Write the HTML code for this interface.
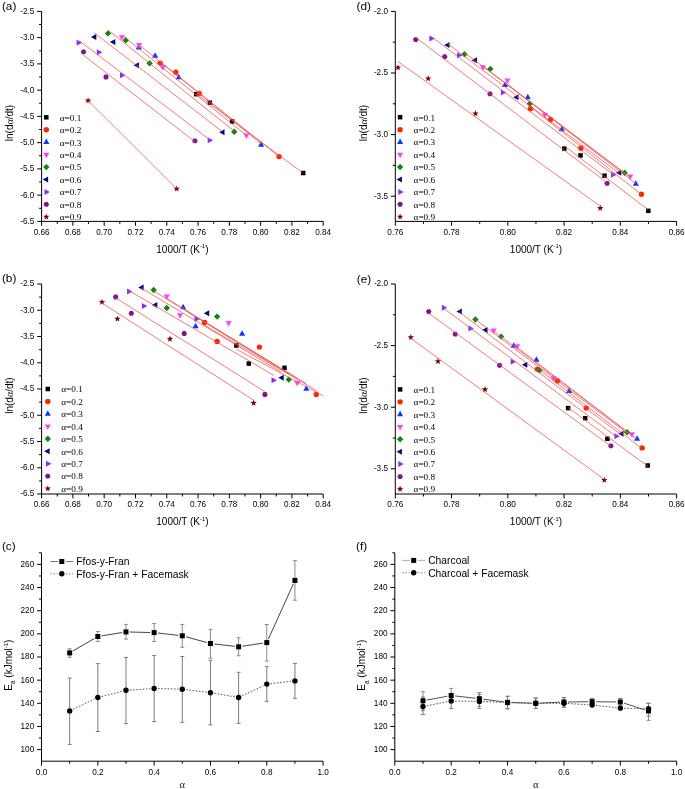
<!DOCTYPE html>
<html><head><meta charset="utf-8"><style>
html,body{margin:0;padding:0;background:#fff;width:685px;height:789px;overflow:hidden}
svg{display:block;will-change:transform}
</style></head><body>
<svg width="685" height="789" viewBox="0 0 685 789">
<rect width="685" height="789" fill="#fff"/>
<path d="M41.60,11.40V221.40H323.20" fill="none" stroke="#000" stroke-width="1"/>
<path d="M41.60,221.40v4.4" stroke="#000" stroke-width="1"/>
<path d="M72.89,221.40v4.4" stroke="#000" stroke-width="1"/>
<path d="M104.18,221.40v4.4" stroke="#000" stroke-width="1"/>
<path d="M135.47,221.40v4.4" stroke="#000" stroke-width="1"/>
<path d="M166.76,221.40v4.4" stroke="#000" stroke-width="1"/>
<path d="M198.04,221.40v4.4" stroke="#000" stroke-width="1"/>
<path d="M229.33,221.40v4.4" stroke="#000" stroke-width="1"/>
<path d="M260.62,221.40v4.4" stroke="#000" stroke-width="1"/>
<path d="M291.91,221.40v4.4" stroke="#000" stroke-width="1"/>
<path d="M323.20,221.40v4.4" stroke="#000" stroke-width="1"/>
<path d="M57.24,221.40v2.5" stroke="#000" stroke-width="1"/>
<path d="M88.53,221.40v2.5" stroke="#000" stroke-width="1"/>
<path d="M119.82,221.40v2.5" stroke="#000" stroke-width="1"/>
<path d="M151.11,221.40v2.5" stroke="#000" stroke-width="1"/>
<path d="M182.40,221.40v2.5" stroke="#000" stroke-width="1"/>
<path d="M213.69,221.40v2.5" stroke="#000" stroke-width="1"/>
<path d="M244.98,221.40v2.5" stroke="#000" stroke-width="1"/>
<path d="M276.27,221.40v2.5" stroke="#000" stroke-width="1"/>
<path d="M307.56,221.40v2.5" stroke="#000" stroke-width="1"/>
<path d="M41.60,11.40h-4.4" stroke="#000" stroke-width="1"/>
<path d="M41.60,37.65h-4.4" stroke="#000" stroke-width="1"/>
<path d="M41.60,63.90h-4.4" stroke="#000" stroke-width="1"/>
<path d="M41.60,90.15h-4.4" stroke="#000" stroke-width="1"/>
<path d="M41.60,116.40h-4.4" stroke="#000" stroke-width="1"/>
<path d="M41.60,142.65h-4.4" stroke="#000" stroke-width="1"/>
<path d="M41.60,168.90h-4.4" stroke="#000" stroke-width="1"/>
<path d="M41.60,195.15h-4.4" stroke="#000" stroke-width="1"/>
<path d="M41.60,221.40h-4.4" stroke="#000" stroke-width="1"/>
<path d="M41.60,24.52h-2.5" stroke="#000" stroke-width="1"/>
<path d="M41.60,50.77h-2.5" stroke="#000" stroke-width="1"/>
<path d="M41.60,77.03h-2.5" stroke="#000" stroke-width="1"/>
<path d="M41.60,103.28h-2.5" stroke="#000" stroke-width="1"/>
<path d="M41.60,129.53h-2.5" stroke="#000" stroke-width="1"/>
<path d="M41.60,155.78h-2.5" stroke="#000" stroke-width="1"/>
<path d="M41.60,182.03h-2.5" stroke="#000" stroke-width="1"/>
<path d="M41.60,208.28h-2.5" stroke="#000" stroke-width="1"/>
<text transform="translate(41.60,234.80) scale(1,1.07)" font-family='"Liberation Sans", sans-serif' font-size="8.2" text-anchor="middle" >0.66</text>
<text transform="translate(72.89,234.80) scale(1,1.07)" font-family='"Liberation Sans", sans-serif' font-size="8.2" text-anchor="middle" >0.68</text>
<text transform="translate(104.18,234.80) scale(1,1.07)" font-family='"Liberation Sans", sans-serif' font-size="8.2" text-anchor="middle" >0.70</text>
<text transform="translate(135.47,234.80) scale(1,1.07)" font-family='"Liberation Sans", sans-serif' font-size="8.2" text-anchor="middle" >0.72</text>
<text transform="translate(166.76,234.80) scale(1,1.07)" font-family='"Liberation Sans", sans-serif' font-size="8.2" text-anchor="middle" >0.74</text>
<text transform="translate(198.04,234.80) scale(1,1.07)" font-family='"Liberation Sans", sans-serif' font-size="8.2" text-anchor="middle" >0.76</text>
<text transform="translate(229.33,234.80) scale(1,1.07)" font-family='"Liberation Sans", sans-serif' font-size="8.2" text-anchor="middle" >0.78</text>
<text transform="translate(260.62,234.80) scale(1,1.07)" font-family='"Liberation Sans", sans-serif' font-size="8.2" text-anchor="middle" >0.80</text>
<text transform="translate(291.91,234.80) scale(1,1.07)" font-family='"Liberation Sans", sans-serif' font-size="8.2" text-anchor="middle" >0.82</text>
<text transform="translate(323.20,234.80) scale(1,1.07)" font-family='"Liberation Sans", sans-serif' font-size="8.2" text-anchor="middle" >0.84</text>
<text transform="translate(34.30,13.80) scale(1,1.07)" font-family='"Liberation Sans", sans-serif' font-size="8.2" text-anchor="end" >-2.5</text>
<text transform="translate(34.30,40.05) scale(1,1.07)" font-family='"Liberation Sans", sans-serif' font-size="8.2" text-anchor="end" >-3.0</text>
<text transform="translate(34.30,66.30) scale(1,1.07)" font-family='"Liberation Sans", sans-serif' font-size="8.2" text-anchor="end" >-3.5</text>
<text transform="translate(34.30,92.55) scale(1,1.07)" font-family='"Liberation Sans", sans-serif' font-size="8.2" text-anchor="end" >-4.0</text>
<text transform="translate(34.30,118.80) scale(1,1.07)" font-family='"Liberation Sans", sans-serif' font-size="8.2" text-anchor="end" >-4.5</text>
<text transform="translate(34.30,145.05) scale(1,1.07)" font-family='"Liberation Sans", sans-serif' font-size="8.2" text-anchor="end" >-5.0</text>
<text transform="translate(34.30,171.30) scale(1,1.07)" font-family='"Liberation Sans", sans-serif' font-size="8.2" text-anchor="end" >-5.5</text>
<text transform="translate(34.30,197.55) scale(1,1.07)" font-family='"Liberation Sans", sans-serif' font-size="8.2" text-anchor="end" >-6.0</text>
<text transform="translate(34.30,223.80) scale(1,1.07)" font-family='"Liberation Sans", sans-serif' font-size="8.2" text-anchor="end" >-6.5</text>
<rect x="193.95" y="91.95" width="4.50" height="4.50" fill="#000000"/>
<rect x="207.65" y="100.45" width="4.50" height="4.50" fill="#000000"/>
<rect x="229.85" y="119.15" width="4.50" height="4.50" fill="#000000"/>
<rect x="300.95" y="170.75" width="4.50" height="4.50" fill="#000000"/>
<circle cx="160.20" cy="63.10" r="2.70" fill="#ff2400"/>
<circle cx="175.80" cy="72.20" r="2.70" fill="#ff2400"/>
<circle cx="199.20" cy="93.40" r="2.70" fill="#ff2400"/>
<circle cx="279.10" cy="156.60" r="2.70" fill="#ff2400"/>
<path d="M138.80,44.07L141.85,49.57L135.75,49.57Z" fill="#1033ff"/>
<path d="M155.10,52.17L158.15,57.67L152.05,57.67Z" fill="#1033ff"/>
<path d="M178.80,73.87L181.85,79.37L175.75,79.37Z" fill="#1033ff"/>
<path d="M261.10,141.37L264.15,146.87L258.05,146.87Z" fill="#1033ff"/>
<path d="M121.80,40.73L124.85,35.23L118.75,35.23Z" fill="#ff40ff"/>
<path d="M139.00,48.43L142.05,42.93L135.95,42.93Z" fill="#ff40ff"/>
<path d="M162.80,70.83L165.85,65.33L159.75,65.33Z" fill="#ff40ff"/>
<path d="M246.40,138.93L249.45,133.43L243.35,133.43Z" fill="#ff40ff"/>
<path d="M108.00,30.20L111.20,33.40L108.00,36.60L104.80,33.40Z" fill="#0a870a"/>
<path d="M125.80,37.00L129.00,40.20L125.80,43.40L122.60,40.20Z" fill="#0a870a"/>
<path d="M149.60,60.00L152.80,63.20L149.60,66.40L146.40,63.20Z" fill="#0a870a"/>
<path d="M234.20,128.60L237.40,131.80L234.20,135.00L231.00,131.80Z" fill="#0a870a"/>
<path d="M90.92,37.00L96.32,34.00L96.32,40.00Z" fill="#000a80"/>
<path d="M109.92,42.00L115.32,39.00L115.32,45.00Z" fill="#000a80"/>
<path d="M133.52,65.20L138.92,62.20L138.92,68.20Z" fill="#000a80"/>
<path d="M219.12,132.20L224.52,129.20L224.52,135.20Z" fill="#000a80"/>
<path d="M81.98,42.70L76.58,39.70L76.58,45.70Z" fill="#8a2cff"/>
<path d="M102.28,52.20L96.88,49.20L96.88,55.20Z" fill="#8a2cff"/>
<path d="M125.38,75.30L119.98,72.30L119.98,78.30Z" fill="#8a2cff"/>
<path d="M213.08,140.20L207.68,137.20L207.68,143.20Z" fill="#8a2cff"/>
<polygon points="86.30,51.80 84.90,54.22 82.10,54.22 80.70,51.80 82.10,49.38 84.90,49.38" fill="#82148a"/>
<polygon points="108.80,77.00 107.40,79.42 104.60,79.42 103.20,77.00 104.60,74.58 107.40,74.58" fill="#82148a"/>
<polygon points="197.70,140.90 196.30,143.32 193.50,143.32 192.10,140.90 193.50,138.48 196.30,138.48" fill="#82148a"/>
<polygon points="88.10,97.30 88.92,99.57 91.33,99.65 89.43,101.13 90.10,103.45 88.10,102.10 86.10,103.45 86.77,101.13 84.87,99.65 87.28,99.57" fill="#800000"/>
<polygon points="176.70,185.40 177.52,187.67 179.93,187.75 178.03,189.23 178.70,191.55 176.70,190.20 174.70,191.55 175.37,189.23 173.47,187.75 175.88,187.67" fill="#800000"/>
<line x1="196.20" y1="93.77" x2="303.20" y2="173.17" stroke="#ec5050" stroke-width="0.75"/>
<line x1="160.20" y1="61.75" x2="279.10" y2="156.52" stroke="#ec5050" stroke-width="0.75"/>
<line x1="138.80" y1="44.53" x2="261.10" y2="143.87" stroke="#ec5050" stroke-width="0.75"/>
<line x1="121.80" y1="34.90" x2="246.40" y2="135.51" stroke="#ec5050" stroke-width="0.75"/>
<line x1="108.00" y1="29.91" x2="234.20" y2="131.20" stroke="#ec5050" stroke-width="0.75"/>
<line x1="93.80" y1="32.50" x2="222.00" y2="131.38" stroke="#ec5050" stroke-width="0.75"/>
<line x1="79.10" y1="40.62" x2="210.20" y2="140.18" stroke="#ec5050" stroke-width="0.75"/>
<line x1="83.50" y1="55.23" x2="194.90" y2="141.77" stroke="#ec5050" stroke-width="0.75"/>
<line x1="88.10" y1="100.70" x2="176.70" y2="188.80" stroke="#ec5050" stroke-width="0.75"/>
<rect x="44.05" y="115.05" width="4.50" height="4.50" fill="#000000"/>
<text x="59.80" y="120.60" font-family='"Liberation Serif", serif' font-size="9.2" text-anchor="start" >&#945;=0.1</text>
<circle cx="46.30" cy="129.75" r="2.70" fill="#ff2400"/>
<text x="59.80" y="133.05" font-family='"Liberation Serif", serif' font-size="9.2" text-anchor="start" >&#945;=0.2</text>
<path d="M46.30,138.53L49.35,144.03L43.25,144.03Z" fill="#1033ff"/>
<text x="59.80" y="145.50" font-family='"Liberation Serif", serif' font-size="9.2" text-anchor="start" >&#945;=0.3</text>
<path d="M46.30,158.32L49.35,152.82L43.25,152.82Z" fill="#ff40ff"/>
<text x="59.80" y="157.95" font-family='"Liberation Serif", serif' font-size="9.2" text-anchor="start" >&#945;=0.4</text>
<path d="M46.30,163.90L49.50,167.10L46.30,170.30L43.10,167.10Z" fill="#0a870a"/>
<text x="59.80" y="170.40" font-family='"Liberation Serif", serif' font-size="9.2" text-anchor="start" >&#945;=0.5</text>
<path d="M42.70,179.55L48.10,176.55L48.10,182.55Z" fill="#000a80"/>
<text x="59.80" y="182.85" font-family='"Liberation Serif", serif' font-size="9.2" text-anchor="start" >&#945;=0.6</text>
<path d="M49.90,192.00L44.50,189.00L44.50,195.00Z" fill="#8a2cff"/>
<text x="59.80" y="195.30" font-family='"Liberation Serif", serif' font-size="9.2" text-anchor="start" >&#945;=0.7</text>
<polygon points="49.10,204.45 47.70,206.87 44.90,206.87 43.50,204.45 44.90,202.03 47.70,202.03" fill="#82148a"/>
<text x="59.80" y="207.75" font-family='"Liberation Serif", serif' font-size="9.2" text-anchor="start" >&#945;=0.8</text>
<polygon points="46.30,213.50 47.12,215.77 49.53,215.85 47.63,217.33 48.30,219.65 46.30,218.30 44.30,219.65 44.97,217.33 43.07,215.85 45.48,215.77" fill="#800000"/>
<text x="59.80" y="220.20" font-family='"Liberation Serif", serif' font-size="9.2" text-anchor="start" >&#945;=0.9</text>
<text x="182.40" y="252.50" font-family='"Liberation Sans", sans-serif' font-size="10" text-anchor="middle">1000/T (K<tspan font-size="5.8" dy="-4.4">-1</tspan><tspan dy="4.4">)</tspan></text>
<text transform="translate(13.10,123.00) rotate(-90)" font-family='"Liberation Sans", sans-serif' font-size="10" text-anchor="middle">ln(d<tspan font-family='"Liberation Serif", serif' font-style="italic">&#945;</tspan>/dt)</text>
<text x="1.90" y="9.60" font-family='"Liberation Sans", sans-serif' font-size="11.8" text-anchor="start" >(a)</text>
<path d="M41.60,284.00V494.00H323.20" fill="none" stroke="#000" stroke-width="1"/>
<path d="M41.60,494.00v4.4" stroke="#000" stroke-width="1"/>
<path d="M72.89,494.00v4.4" stroke="#000" stroke-width="1"/>
<path d="M104.18,494.00v4.4" stroke="#000" stroke-width="1"/>
<path d="M135.47,494.00v4.4" stroke="#000" stroke-width="1"/>
<path d="M166.76,494.00v4.4" stroke="#000" stroke-width="1"/>
<path d="M198.04,494.00v4.4" stroke="#000" stroke-width="1"/>
<path d="M229.33,494.00v4.4" stroke="#000" stroke-width="1"/>
<path d="M260.62,494.00v4.4" stroke="#000" stroke-width="1"/>
<path d="M291.91,494.00v4.4" stroke="#000" stroke-width="1"/>
<path d="M323.20,494.00v4.4" stroke="#000" stroke-width="1"/>
<path d="M57.24,494.00v2.5" stroke="#000" stroke-width="1"/>
<path d="M88.53,494.00v2.5" stroke="#000" stroke-width="1"/>
<path d="M119.82,494.00v2.5" stroke="#000" stroke-width="1"/>
<path d="M151.11,494.00v2.5" stroke="#000" stroke-width="1"/>
<path d="M182.40,494.00v2.5" stroke="#000" stroke-width="1"/>
<path d="M213.69,494.00v2.5" stroke="#000" stroke-width="1"/>
<path d="M244.98,494.00v2.5" stroke="#000" stroke-width="1"/>
<path d="M276.27,494.00v2.5" stroke="#000" stroke-width="1"/>
<path d="M307.56,494.00v2.5" stroke="#000" stroke-width="1"/>
<path d="M41.60,284.00h-4.4" stroke="#000" stroke-width="1"/>
<path d="M41.60,310.25h-4.4" stroke="#000" stroke-width="1"/>
<path d="M41.60,336.50h-4.4" stroke="#000" stroke-width="1"/>
<path d="M41.60,362.75h-4.4" stroke="#000" stroke-width="1"/>
<path d="M41.60,389.00h-4.4" stroke="#000" stroke-width="1"/>
<path d="M41.60,415.25h-4.4" stroke="#000" stroke-width="1"/>
<path d="M41.60,441.50h-4.4" stroke="#000" stroke-width="1"/>
<path d="M41.60,467.75h-4.4" stroke="#000" stroke-width="1"/>
<path d="M41.60,494.00h-4.4" stroke="#000" stroke-width="1"/>
<path d="M41.60,297.12h-2.5" stroke="#000" stroke-width="1"/>
<path d="M41.60,323.38h-2.5" stroke="#000" stroke-width="1"/>
<path d="M41.60,349.62h-2.5" stroke="#000" stroke-width="1"/>
<path d="M41.60,375.88h-2.5" stroke="#000" stroke-width="1"/>
<path d="M41.60,402.12h-2.5" stroke="#000" stroke-width="1"/>
<path d="M41.60,428.38h-2.5" stroke="#000" stroke-width="1"/>
<path d="M41.60,454.62h-2.5" stroke="#000" stroke-width="1"/>
<path d="M41.60,480.88h-2.5" stroke="#000" stroke-width="1"/>
<text transform="translate(41.60,507.40) scale(1,1.07)" font-family='"Liberation Sans", sans-serif' font-size="8.2" text-anchor="middle" >0.66</text>
<text transform="translate(72.89,507.40) scale(1,1.07)" font-family='"Liberation Sans", sans-serif' font-size="8.2" text-anchor="middle" >0.68</text>
<text transform="translate(104.18,507.40) scale(1,1.07)" font-family='"Liberation Sans", sans-serif' font-size="8.2" text-anchor="middle" >0.70</text>
<text transform="translate(135.47,507.40) scale(1,1.07)" font-family='"Liberation Sans", sans-serif' font-size="8.2" text-anchor="middle" >0.72</text>
<text transform="translate(166.76,507.40) scale(1,1.07)" font-family='"Liberation Sans", sans-serif' font-size="8.2" text-anchor="middle" >0.74</text>
<text transform="translate(198.04,507.40) scale(1,1.07)" font-family='"Liberation Sans", sans-serif' font-size="8.2" text-anchor="middle" >0.76</text>
<text transform="translate(229.33,507.40) scale(1,1.07)" font-family='"Liberation Sans", sans-serif' font-size="8.2" text-anchor="middle" >0.78</text>
<text transform="translate(260.62,507.40) scale(1,1.07)" font-family='"Liberation Sans", sans-serif' font-size="8.2" text-anchor="middle" >0.80</text>
<text transform="translate(291.91,507.40) scale(1,1.07)" font-family='"Liberation Sans", sans-serif' font-size="8.2" text-anchor="middle" >0.82</text>
<text transform="translate(323.20,507.40) scale(1,1.07)" font-family='"Liberation Sans", sans-serif' font-size="8.2" text-anchor="middle" >0.84</text>
<text transform="translate(34.30,286.40) scale(1,1.07)" font-family='"Liberation Sans", sans-serif' font-size="8.2" text-anchor="end" >-2.5</text>
<text transform="translate(34.30,312.65) scale(1,1.07)" font-family='"Liberation Sans", sans-serif' font-size="8.2" text-anchor="end" >-3.0</text>
<text transform="translate(34.30,338.90) scale(1,1.07)" font-family='"Liberation Sans", sans-serif' font-size="8.2" text-anchor="end" >-3.5</text>
<text transform="translate(34.30,365.15) scale(1,1.07)" font-family='"Liberation Sans", sans-serif' font-size="8.2" text-anchor="end" >-4.0</text>
<text transform="translate(34.30,391.40) scale(1,1.07)" font-family='"Liberation Sans", sans-serif' font-size="8.2" text-anchor="end" >-4.5</text>
<text transform="translate(34.30,417.65) scale(1,1.07)" font-family='"Liberation Sans", sans-serif' font-size="8.2" text-anchor="end" >-5.0</text>
<text transform="translate(34.30,443.90) scale(1,1.07)" font-family='"Liberation Sans", sans-serif' font-size="8.2" text-anchor="end" >-5.5</text>
<text transform="translate(34.30,470.15) scale(1,1.07)" font-family='"Liberation Sans", sans-serif' font-size="8.2" text-anchor="end" >-6.0</text>
<text transform="translate(34.30,496.40) scale(1,1.07)" font-family='"Liberation Sans", sans-serif' font-size="8.2" text-anchor="end" >-6.5</text>
<rect x="234.15" y="343.25" width="4.50" height="4.50" fill="#000000"/>
<rect x="246.55" y="361.35" width="4.50" height="4.50" fill="#000000"/>
<rect x="282.25" y="365.55" width="4.50" height="4.50" fill="#000000"/>
<circle cx="204.60" cy="322.50" r="2.70" fill="#ff2400"/>
<circle cx="217.10" cy="341.40" r="2.70" fill="#ff2400"/>
<circle cx="259.40" cy="347.10" r="2.70" fill="#ff2400"/>
<circle cx="316.30" cy="394.50" r="2.70" fill="#ff2400"/>
<path d="M183.10,303.67L186.15,309.17L180.05,309.17Z" fill="#1033ff"/>
<path d="M195.60,322.77L198.65,328.27L192.55,328.27Z" fill="#1033ff"/>
<path d="M242.10,330.17L245.15,335.67L239.05,335.67Z" fill="#1033ff"/>
<path d="M306.30,385.37L309.35,390.87L303.25,390.87Z" fill="#1033ff"/>
<path d="M166.80,299.93L169.85,294.43L163.75,294.43Z" fill="#ff40ff"/>
<path d="M180.00,318.73L183.05,313.23L176.95,313.23Z" fill="#ff40ff"/>
<path d="M228.70,326.53L231.75,321.03L225.65,321.03Z" fill="#ff40ff"/>
<path d="M297.20,386.43L300.25,380.93L294.15,380.93Z" fill="#ff40ff"/>
<path d="M153.70,286.80L156.90,290.00L153.70,293.20L150.50,290.00Z" fill="#0a870a"/>
<path d="M166.80,304.80L170.00,308.00L166.80,311.20L163.60,308.00Z" fill="#0a870a"/>
<path d="M217.10,313.40L220.30,316.60L217.10,319.80L213.90,316.60Z" fill="#0a870a"/>
<path d="M288.80,376.40L292.00,379.60L288.80,382.80L285.60,379.60Z" fill="#0a870a"/>
<path d="M138.22,287.40L143.62,284.40L143.62,290.40Z" fill="#000a80"/>
<path d="M151.92,305.10L157.32,302.10L157.32,308.10Z" fill="#000a80"/>
<path d="M203.82,313.30L209.22,310.30L209.22,316.30Z" fill="#000a80"/>
<path d="M278.32,377.80L283.72,374.80L283.72,380.80Z" fill="#000a80"/>
<path d="M132.48,291.50L127.08,288.50L127.08,294.50Z" fill="#8a2cff"/>
<path d="M147.28,305.90L141.88,302.90L141.88,308.90Z" fill="#8a2cff"/>
<path d="M199.88,318.90L194.48,315.90L194.48,321.90Z" fill="#8a2cff"/>
<path d="M276.88,380.20L271.48,377.20L271.48,383.20Z" fill="#8a2cff"/>
<polygon points="118.50,297.00 117.10,299.42 114.30,299.42 112.90,297.00 114.30,294.58 117.10,294.58" fill="#82148a"/>
<polygon points="134.10,313.30 132.70,315.72 129.90,315.72 128.50,313.30 129.90,310.88 132.70,310.88" fill="#82148a"/>
<polygon points="187.00,333.50 185.60,335.92 182.80,335.92 181.40,333.50 182.80,331.08 185.60,331.08" fill="#82148a"/>
<polygon points="267.70,394.50 266.30,396.92 263.50,396.92 262.10,394.50 263.50,392.08 266.30,392.08" fill="#82148a"/>
<polygon points="102.00,298.70 102.82,300.97 105.23,301.05 103.33,302.53 104.00,304.85 102.00,303.50 100.00,304.85 100.67,302.53 98.77,301.05 101.18,300.97" fill="#800000"/>
<polygon points="117.40,315.40 118.22,317.67 120.63,317.75 118.73,319.23 119.40,321.55 117.40,320.20 115.40,321.55 116.07,319.23 114.17,317.75 116.58,317.67" fill="#800000"/>
<polygon points="170.00,335.60 170.82,337.87 173.23,337.95 171.33,339.43 172.00,341.75 170.00,340.40 168.00,341.75 168.67,339.43 166.77,337.95 169.18,337.87" fill="#800000"/>
<polygon points="253.60,399.60 254.42,401.87 256.83,401.95 254.93,403.43 255.60,405.75 253.60,404.40 251.60,405.75 252.27,403.43 250.37,401.95 252.78,401.87" fill="#800000"/>
<line x1="236.40" y1="349.30" x2="323.30" y2="395.80" stroke="#ec5050" stroke-width="0.75"/>
<line x1="204.60" y1="325.21" x2="316.30" y2="390.51" stroke="#ec5050" stroke-width="0.75"/>
<line x1="183.10" y1="308.86" x2="306.30" y2="383.68" stroke="#ec5050" stroke-width="0.75"/>
<line x1="166.80" y1="298.53" x2="297.20" y2="378.35" stroke="#ec5050" stroke-width="0.75"/>
<line x1="153.70" y1="290.97" x2="288.80" y2="374.17" stroke="#ec5050" stroke-width="0.75"/>
<line x1="141.10" y1="287.96" x2="281.20" y2="372.09" stroke="#ec5050" stroke-width="0.75"/>
<line x1="129.60" y1="290.98" x2="274.00" y2="375.47" stroke="#ec5050" stroke-width="0.75"/>
<line x1="115.70" y1="297.94" x2="264.90" y2="391.65" stroke="#ec5050" stroke-width="0.75"/>
<line x1="102.00" y1="303.12" x2="253.60" y2="400.16" stroke="#ec5050" stroke-width="0.75"/>
<rect x="45.55" y="386.75" width="4.50" height="4.50" fill="#000000"/>
<text x="61.30" y="392.30" font-family='"Liberation Serif", serif' font-size="9.2" text-anchor="start" >&#945;=0.1</text>
<circle cx="47.80" cy="401.45" r="2.70" fill="#ff2400"/>
<text x="61.30" y="404.75" font-family='"Liberation Serif", serif' font-size="9.2" text-anchor="start" >&#945;=0.2</text>
<path d="M47.80,410.23L50.85,415.73L44.75,415.73Z" fill="#1033ff"/>
<text x="61.30" y="417.20" font-family='"Liberation Serif", serif' font-size="9.2" text-anchor="start" >&#945;=0.3</text>
<path d="M47.80,430.02L50.85,424.52L44.75,424.52Z" fill="#ff40ff"/>
<text x="61.30" y="429.65" font-family='"Liberation Serif", serif' font-size="9.2" text-anchor="start" >&#945;=0.4</text>
<path d="M47.80,435.60L51.00,438.80L47.80,442.00L44.60,438.80Z" fill="#0a870a"/>
<text x="61.30" y="442.10" font-family='"Liberation Serif", serif' font-size="9.2" text-anchor="start" >&#945;=0.5</text>
<path d="M44.20,451.25L49.60,448.25L49.60,454.25Z" fill="#000a80"/>
<text x="61.30" y="454.55" font-family='"Liberation Serif", serif' font-size="9.2" text-anchor="start" >&#945;=0.6</text>
<path d="M51.40,463.70L46.00,460.70L46.00,466.70Z" fill="#8a2cff"/>
<text x="61.30" y="467.00" font-family='"Liberation Serif", serif' font-size="9.2" text-anchor="start" >&#945;=0.7</text>
<polygon points="50.60,476.15 49.20,478.57 46.40,478.57 45.00,476.15 46.40,473.73 49.20,473.73" fill="#82148a"/>
<text x="61.30" y="479.45" font-family='"Liberation Serif", serif' font-size="9.2" text-anchor="start" >&#945;=0.8</text>
<polygon points="47.80,485.20 48.62,487.47 51.03,487.55 49.13,489.03 49.80,491.35 47.80,490.00 45.80,491.35 46.47,489.03 44.57,487.55 46.98,487.47" fill="#800000"/>
<text x="61.30" y="491.90" font-family='"Liberation Serif", serif' font-size="9.2" text-anchor="start" >&#945;=0.9</text>
<text x="182.40" y="525.10" font-family='"Liberation Sans", sans-serif' font-size="10" text-anchor="middle">1000/T (K<tspan font-size="5.8" dy="-4.4">-1</tspan><tspan dy="4.4">)</tspan></text>
<text transform="translate(13.10,395.60) rotate(-90)" font-family='"Liberation Sans", sans-serif' font-size="10" text-anchor="middle">ln(d<tspan font-family='"Liberation Serif", serif' font-style="italic">&#945;</tspan>/dt)</text>
<text x="1.90" y="282.20" font-family='"Liberation Sans", sans-serif' font-size="11.8" text-anchor="start" >(b)</text>
<path d="M395.30,11.40V221.40H676.60" fill="none" stroke="#000" stroke-width="1"/>
<path d="M395.30,221.40v4.4" stroke="#000" stroke-width="1"/>
<path d="M451.56,221.40v4.4" stroke="#000" stroke-width="1"/>
<path d="M507.82,221.40v4.4" stroke="#000" stroke-width="1"/>
<path d="M564.08,221.40v4.4" stroke="#000" stroke-width="1"/>
<path d="M620.34,221.40v4.4" stroke="#000" stroke-width="1"/>
<path d="M676.60,221.40v4.4" stroke="#000" stroke-width="1"/>
<path d="M423.43,221.40v2.5" stroke="#000" stroke-width="1"/>
<path d="M479.69,221.40v2.5" stroke="#000" stroke-width="1"/>
<path d="M535.95,221.40v2.5" stroke="#000" stroke-width="1"/>
<path d="M592.21,221.40v2.5" stroke="#000" stroke-width="1"/>
<path d="M648.47,221.40v2.5" stroke="#000" stroke-width="1"/>
<path d="M395.30,11.40h-4.4" stroke="#000" stroke-width="1"/>
<path d="M395.30,73.00h-4.4" stroke="#000" stroke-width="1"/>
<path d="M395.30,134.60h-4.4" stroke="#000" stroke-width="1"/>
<path d="M395.30,196.20h-4.4" stroke="#000" stroke-width="1"/>
<path d="M395.30,42.20h-2.5" stroke="#000" stroke-width="1"/>
<path d="M395.30,103.80h-2.5" stroke="#000" stroke-width="1"/>
<path d="M395.30,165.40h-2.5" stroke="#000" stroke-width="1"/>
<text transform="translate(395.30,234.80) scale(1,1.07)" font-family='"Liberation Sans", sans-serif' font-size="8.2" text-anchor="middle" >0.76</text>
<text transform="translate(451.56,234.80) scale(1,1.07)" font-family='"Liberation Sans", sans-serif' font-size="8.2" text-anchor="middle" >0.78</text>
<text transform="translate(507.82,234.80) scale(1,1.07)" font-family='"Liberation Sans", sans-serif' font-size="8.2" text-anchor="middle" >0.80</text>
<text transform="translate(564.08,234.80) scale(1,1.07)" font-family='"Liberation Sans", sans-serif' font-size="8.2" text-anchor="middle" >0.82</text>
<text transform="translate(620.34,234.80) scale(1,1.07)" font-family='"Liberation Sans", sans-serif' font-size="8.2" text-anchor="middle" >0.84</text>
<text transform="translate(676.60,234.80) scale(1,1.07)" font-family='"Liberation Sans", sans-serif' font-size="8.2" text-anchor="middle" >0.86</text>
<text transform="translate(388.00,13.80) scale(1,1.07)" font-family='"Liberation Sans", sans-serif' font-size="8.2" text-anchor="end" >-2.0</text>
<text transform="translate(388.00,75.40) scale(1,1.07)" font-family='"Liberation Sans", sans-serif' font-size="8.2" text-anchor="end" >-2.5</text>
<text transform="translate(388.00,137.00) scale(1,1.07)" font-family='"Liberation Sans", sans-serif' font-size="8.2" text-anchor="end" >-3.0</text>
<text transform="translate(388.00,198.60) scale(1,1.07)" font-family='"Liberation Sans", sans-serif' font-size="8.2" text-anchor="end" >-3.5</text>
<rect x="562.05" y="146.35" width="4.50" height="4.50" fill="#000000"/>
<rect x="578.25" y="153.15" width="4.50" height="4.50" fill="#000000"/>
<rect x="602.25" y="173.45" width="4.50" height="4.50" fill="#000000"/>
<rect x="646.05" y="208.55" width="4.50" height="4.50" fill="#000000"/>
<circle cx="530.50" cy="108.70" r="2.70" fill="#ff2400"/>
<circle cx="550.60" cy="119.50" r="2.70" fill="#ff2400"/>
<circle cx="580.90" cy="148.20" r="2.70" fill="#ff2400"/>
<circle cx="641.40" cy="194.30" r="2.70" fill="#ff2400"/>
<path d="M505.00,81.47L508.05,86.97L501.95,86.97Z" fill="#1033ff"/>
<path d="M527.80,93.67L530.85,99.17L524.75,99.17Z" fill="#1033ff"/>
<path d="M561.80,125.77L564.85,131.27L558.75,131.27Z" fill="#1033ff"/>
<path d="M635.80,180.37L638.85,185.87L632.75,185.87Z" fill="#1033ff"/>
<path d="M482.90,70.63L485.95,65.13L479.85,65.13Z" fill="#ff40ff"/>
<path d="M507.50,83.93L510.55,78.43L504.45,78.43Z" fill="#ff40ff"/>
<path d="M544.90,118.13L547.95,112.63L541.85,112.63Z" fill="#ff40ff"/>
<path d="M630.20,179.93L633.25,174.43L627.15,174.43Z" fill="#ff40ff"/>
<path d="M464.50,51.10L467.70,54.30L464.50,57.50L461.30,54.30Z" fill="#0a870a"/>
<path d="M490.30,65.70L493.50,68.90L490.30,72.10L487.10,68.90Z" fill="#0a870a"/>
<path d="M529.80,100.60L533.00,103.80L529.80,107.00L526.60,103.80Z" fill="#0a870a"/>
<path d="M624.60,169.60L627.80,172.80L624.60,176.00L621.40,172.80Z" fill="#0a870a"/>
<path d="M444.12,44.90L449.52,41.90L449.52,47.90Z" fill="#000a80"/>
<path d="M471.62,60.30L477.02,57.30L477.02,63.30Z" fill="#000a80"/>
<path d="M513.12,97.30L518.52,94.30L518.52,100.30Z" fill="#000a80"/>
<path d="M615.92,172.80L621.32,169.80L621.32,175.80Z" fill="#000a80"/>
<path d="M434.78,38.50L429.38,35.50L429.38,41.50Z" fill="#8a2cff"/>
<path d="M462.48,55.30L457.08,52.30L457.08,58.30Z" fill="#8a2cff"/>
<path d="M506.28,92.60L500.88,89.60L500.88,95.60Z" fill="#8a2cff"/>
<path d="M616.48,174.80L611.08,171.80L611.08,177.80Z" fill="#8a2cff"/>
<polygon points="418.50,39.70 417.10,42.12 414.30,42.12 412.90,39.70 414.30,37.28 417.10,37.28" fill="#82148a"/>
<polygon points="447.50,56.70 446.10,59.12 443.30,59.12 441.90,56.70 443.30,54.28 446.10,54.28" fill="#82148a"/>
<polygon points="492.80,93.90 491.40,96.32 488.60,96.32 487.20,93.90 488.60,91.48 491.40,91.48" fill="#82148a"/>
<polygon points="609.90,183.30 608.50,185.72 605.70,185.72 604.30,183.30 605.70,180.88 608.50,180.88" fill="#82148a"/>
<polygon points="398.00,64.20 398.82,66.47 401.23,66.55 399.33,68.03 400.00,70.35 398.00,69.00 396.00,70.35 396.67,68.03 394.77,66.55 397.18,66.47" fill="#800000"/>
<polygon points="428.20,75.20 429.02,77.47 431.43,77.55 429.53,79.03 430.20,81.35 428.20,80.00 426.20,81.35 426.87,79.03 424.97,77.55 427.38,77.47" fill="#800000"/>
<polygon points="475.50,110.20 476.32,112.47 478.73,112.55 476.83,114.03 477.50,116.35 475.50,115.00 473.50,116.35 474.17,114.03 472.27,112.55 474.68,112.47" fill="#800000"/>
<polygon points="600.30,204.80 601.12,207.07 603.53,207.15 601.63,208.63 602.30,210.95 600.30,209.60 598.30,210.95 598.97,208.63 597.07,207.15 599.48,207.07" fill="#800000"/>
<line x1="564.30" y1="145.89" x2="648.30" y2="209.87" stroke="#ec5050" stroke-width="0.75"/>
<line x1="530.50" y1="106.88" x2="641.40" y2="194.41" stroke="#ec5050" stroke-width="0.75"/>
<line x1="505.00" y1="82.64" x2="635.80" y2="183.62" stroke="#ec5050" stroke-width="0.75"/>
<line x1="482.90" y1="66.02" x2="630.20" y2="177.37" stroke="#ec5050" stroke-width="0.75"/>
<line x1="464.50" y1="52.75" x2="624.60" y2="173.08" stroke="#ec5050" stroke-width="0.75"/>
<line x1="447.00" y1="43.09" x2="618.80" y2="173.04" stroke="#ec5050" stroke-width="0.75"/>
<line x1="431.90" y1="37.00" x2="613.60" y2="174.91" stroke="#ec5050" stroke-width="0.75"/>
<line x1="415.70" y1="37.39" x2="607.10" y2="182.89" stroke="#ec5050" stroke-width="0.75"/>
<line x1="398.00" y1="61.60" x2="600.30" y2="206.21" stroke="#ec5050" stroke-width="0.75"/>
<rect x="397.85" y="114.95" width="4.50" height="4.50" fill="#000000"/>
<text x="413.60" y="120.50" font-family='"Liberation Serif", serif' font-size="9.2" text-anchor="start" >&#945;=0.1</text>
<circle cx="400.10" cy="129.65" r="2.70" fill="#ff2400"/>
<text x="413.60" y="132.95" font-family='"Liberation Serif", serif' font-size="9.2" text-anchor="start" >&#945;=0.2</text>
<path d="M400.10,138.43L403.15,143.93L397.05,143.93Z" fill="#1033ff"/>
<text x="413.60" y="145.40" font-family='"Liberation Serif", serif' font-size="9.2" text-anchor="start" >&#945;=0.3</text>
<path d="M400.10,158.22L403.15,152.72L397.05,152.72Z" fill="#ff40ff"/>
<text x="413.60" y="157.85" font-family='"Liberation Serif", serif' font-size="9.2" text-anchor="start" >&#945;=0.4</text>
<path d="M400.10,163.80L403.30,167.00L400.10,170.20L396.90,167.00Z" fill="#0a870a"/>
<text x="413.60" y="170.30" font-family='"Liberation Serif", serif' font-size="9.2" text-anchor="start" >&#945;=0.5</text>
<path d="M396.50,179.45L401.90,176.45L401.90,182.45Z" fill="#000a80"/>
<text x="413.60" y="182.75" font-family='"Liberation Serif", serif' font-size="9.2" text-anchor="start" >&#945;=0.6</text>
<path d="M403.70,191.90L398.30,188.90L398.30,194.90Z" fill="#8a2cff"/>
<text x="413.60" y="195.20" font-family='"Liberation Serif", serif' font-size="9.2" text-anchor="start" >&#945;=0.7</text>
<polygon points="402.90,204.35 401.50,206.77 398.70,206.77 397.30,204.35 398.70,201.93 401.50,201.93" fill="#82148a"/>
<text x="413.60" y="207.65" font-family='"Liberation Serif", serif' font-size="9.2" text-anchor="start" >&#945;=0.8</text>
<polygon points="400.10,213.40 400.92,215.67 403.33,215.75 401.43,217.23 402.10,219.55 400.10,218.20 398.10,219.55 398.77,217.23 396.87,215.75 399.28,215.67" fill="#800000"/>
<text x="413.60" y="220.10" font-family='"Liberation Serif", serif' font-size="9.2" text-anchor="start" >&#945;=0.9</text>
<text x="535.95" y="252.50" font-family='"Liberation Sans", sans-serif' font-size="10" text-anchor="middle">1000/T (K<tspan font-size="5.8" dy="-4.4">-1</tspan><tspan dy="4.4">)</tspan></text>
<text transform="translate(366.80,123.00) rotate(-90)" font-family='"Liberation Sans", sans-serif' font-size="10" text-anchor="middle">ln(d<tspan font-family='"Liberation Serif", serif' font-style="italic">&#945;</tspan>/dt)</text>
<text x="356.60" y="10.20" font-family='"Liberation Sans", sans-serif' font-size="11.8" text-anchor="start" >(d)</text>
<path d="M395.30,284.00V494.00H676.60" fill="none" stroke="#000" stroke-width="1"/>
<path d="M395.30,494.00v4.4" stroke="#000" stroke-width="1"/>
<path d="M451.56,494.00v4.4" stroke="#000" stroke-width="1"/>
<path d="M507.82,494.00v4.4" stroke="#000" stroke-width="1"/>
<path d="M564.08,494.00v4.4" stroke="#000" stroke-width="1"/>
<path d="M620.34,494.00v4.4" stroke="#000" stroke-width="1"/>
<path d="M676.60,494.00v4.4" stroke="#000" stroke-width="1"/>
<path d="M423.43,494.00v2.5" stroke="#000" stroke-width="1"/>
<path d="M479.69,494.00v2.5" stroke="#000" stroke-width="1"/>
<path d="M535.95,494.00v2.5" stroke="#000" stroke-width="1"/>
<path d="M592.21,494.00v2.5" stroke="#000" stroke-width="1"/>
<path d="M648.47,494.00v2.5" stroke="#000" stroke-width="1"/>
<path d="M395.30,284.00h-4.4" stroke="#000" stroke-width="1"/>
<path d="M395.30,345.60h-4.4" stroke="#000" stroke-width="1"/>
<path d="M395.30,407.20h-4.4" stroke="#000" stroke-width="1"/>
<path d="M395.30,468.80h-4.4" stroke="#000" stroke-width="1"/>
<path d="M395.30,314.80h-2.5" stroke="#000" stroke-width="1"/>
<path d="M395.30,376.40h-2.5" stroke="#000" stroke-width="1"/>
<path d="M395.30,438.00h-2.5" stroke="#000" stroke-width="1"/>
<text transform="translate(395.30,507.40) scale(1,1.07)" font-family='"Liberation Sans", sans-serif' font-size="8.2" text-anchor="middle" >0.76</text>
<text transform="translate(451.56,507.40) scale(1,1.07)" font-family='"Liberation Sans", sans-serif' font-size="8.2" text-anchor="middle" >0.78</text>
<text transform="translate(507.82,507.40) scale(1,1.07)" font-family='"Liberation Sans", sans-serif' font-size="8.2" text-anchor="middle" >0.80</text>
<text transform="translate(564.08,507.40) scale(1,1.07)" font-family='"Liberation Sans", sans-serif' font-size="8.2" text-anchor="middle" >0.82</text>
<text transform="translate(620.34,507.40) scale(1,1.07)" font-family='"Liberation Sans", sans-serif' font-size="8.2" text-anchor="middle" >0.84</text>
<text transform="translate(676.60,507.40) scale(1,1.07)" font-family='"Liberation Sans", sans-serif' font-size="8.2" text-anchor="middle" >0.86</text>
<text transform="translate(388.00,286.40) scale(1,1.07)" font-family='"Liberation Sans", sans-serif' font-size="8.2" text-anchor="end" >-2.0</text>
<text transform="translate(388.00,348.00) scale(1,1.07)" font-family='"Liberation Sans", sans-serif' font-size="8.2" text-anchor="end" >-2.5</text>
<text transform="translate(388.00,409.60) scale(1,1.07)" font-family='"Liberation Sans", sans-serif' font-size="8.2" text-anchor="end" >-3.0</text>
<text transform="translate(388.00,471.20) scale(1,1.07)" font-family='"Liberation Sans", sans-serif' font-size="8.2" text-anchor="end" >-3.5</text>
<rect x="565.85" y="405.85" width="4.50" height="4.50" fill="#000000"/>
<rect x="582.95" y="415.95" width="4.50" height="4.50" fill="#000000"/>
<rect x="605.15" y="436.55" width="4.50" height="4.50" fill="#000000"/>
<rect x="645.45" y="463.25" width="4.50" height="4.50" fill="#000000"/>
<circle cx="537.40" cy="369.30" r="2.70" fill="#ff2400"/>
<circle cx="557.50" cy="380.90" r="2.70" fill="#ff2400"/>
<circle cx="586.20" cy="408.10" r="2.70" fill="#ff2400"/>
<circle cx="642.10" cy="447.90" r="2.70" fill="#ff2400"/>
<path d="M513.70,342.27L516.75,347.77L510.65,347.77Z" fill="#1033ff"/>
<path d="M536.40,356.37L539.45,361.87L533.35,361.87Z" fill="#1033ff"/>
<path d="M569.10,387.57L572.15,393.07L566.05,393.07Z" fill="#1033ff"/>
<path d="M637.10,435.37L640.15,440.87L634.05,440.87Z" fill="#1033ff"/>
<path d="M493.60,334.03L496.65,328.53L490.55,328.53Z" fill="#ff40ff"/>
<path d="M517.20,349.63L520.25,344.13L514.15,344.13Z" fill="#ff40ff"/>
<path d="M553.50,381.83L556.55,376.33L550.45,376.33Z" fill="#ff40ff"/>
<path d="M632.00,437.73L635.05,432.23L628.95,432.23Z" fill="#ff40ff"/>
<path d="M475.40,316.30L478.60,319.50L475.40,322.70L472.20,319.50Z" fill="#0a870a"/>
<path d="M501.10,333.40L504.30,336.60L501.10,339.80L497.90,336.60Z" fill="#0a870a"/>
<path d="M539.40,367.10L542.60,370.30L539.40,373.50L536.20,370.30Z" fill="#0a870a"/>
<path d="M627.00,429.10L630.20,432.30L627.00,435.50L623.80,432.30Z" fill="#0a870a"/>
<path d="M456.42,311.40L461.82,308.40L461.82,314.40Z" fill="#000a80"/>
<path d="M482.12,330.10L487.52,327.10L487.52,333.10Z" fill="#000a80"/>
<path d="M521.92,364.80L527.32,361.80L527.32,367.80Z" fill="#000a80"/>
<path d="M618.12,433.80L623.52,430.80L623.52,436.80Z" fill="#000a80"/>
<path d="M447.28,307.80L441.88,304.80L441.88,310.80Z" fill="#8a2cff"/>
<path d="M473.78,328.50L468.38,325.50L468.38,331.50Z" fill="#8a2cff"/>
<path d="M516.08,361.80L510.68,358.80L510.68,364.80Z" fill="#8a2cff"/>
<path d="M619.78,436.30L614.38,433.30L614.38,439.30Z" fill="#8a2cff"/>
<polygon points="431.50,311.60 430.10,314.02 427.30,314.02 425.90,311.60 427.30,309.18 430.10,309.18" fill="#82148a"/>
<polygon points="458.00,334.20 456.60,336.62 453.80,336.62 452.40,334.20 453.80,331.78 456.60,331.78" fill="#82148a"/>
<polygon points="502.40,365.30 501.00,367.72 498.20,367.72 496.80,365.30 498.20,362.88 501.00,362.88" fill="#82148a"/>
<polygon points="613.70,445.90 612.30,448.32 609.50,448.32 608.10,445.90 609.50,443.48 612.30,443.48" fill="#82148a"/>
<polygon points="410.80,333.90 411.62,336.17 414.03,336.25 412.13,337.73 412.80,340.05 410.80,338.70 408.80,340.05 409.47,337.73 407.57,336.25 409.98,336.17" fill="#800000"/>
<polygon points="438.00,358.00 438.82,360.27 441.23,360.35 439.33,361.83 440.00,364.15 438.00,362.80 436.00,364.15 436.67,361.83 434.77,360.35 437.18,360.27" fill="#800000"/>
<polygon points="485.00,386.10 485.82,388.37 488.23,388.45 486.33,389.93 487.00,392.25 485.00,390.90 483.00,392.25 483.67,389.93 481.77,388.45 484.18,388.37" fill="#800000"/>
<polygon points="604.30,476.70 605.12,478.97 607.53,479.05 605.63,480.53 606.30,482.85 604.30,481.50 602.30,482.85 602.97,480.53 601.07,479.05 603.48,478.97" fill="#800000"/>
<line x1="568.10" y1="407.65" x2="647.70" y2="466.18" stroke="#ec5050" stroke-width="0.75"/>
<line x1="537.40" y1="368.32" x2="642.10" y2="448.49" stroke="#ec5050" stroke-width="0.75"/>
<line x1="513.70" y1="344.73" x2="637.10" y2="439.27" stroke="#ec5050" stroke-width="0.75"/>
<line x1="493.60" y1="330.91" x2="632.00" y2="435.61" stroke="#ec5050" stroke-width="0.75"/>
<line x1="475.40" y1="319.42" x2="627.00" y2="433.16" stroke="#ec5050" stroke-width="0.75"/>
<line x1="459.30" y1="312.01" x2="621.00" y2="434.81" stroke="#ec5050" stroke-width="0.75"/>
<line x1="444.40" y1="308.86" x2="616.90" y2="437.02" stroke="#ec5050" stroke-width="0.75"/>
<line x1="428.70" y1="313.20" x2="610.90" y2="446.26" stroke="#ec5050" stroke-width="0.75"/>
<line x1="410.80" y1="338.30" x2="604.30" y2="479.44" stroke="#ec5050" stroke-width="0.75"/>
<rect x="397.85" y="387.15" width="4.50" height="4.50" fill="#000000"/>
<text x="413.60" y="392.70" font-family='"Liberation Serif", serif' font-size="9.2" text-anchor="start" >&#945;=0.1</text>
<circle cx="400.10" cy="401.85" r="2.70" fill="#ff2400"/>
<text x="413.60" y="405.15" font-family='"Liberation Serif", serif' font-size="9.2" text-anchor="start" >&#945;=0.2</text>
<path d="M400.10,410.63L403.15,416.13L397.05,416.13Z" fill="#1033ff"/>
<text x="413.60" y="417.60" font-family='"Liberation Serif", serif' font-size="9.2" text-anchor="start" >&#945;=0.3</text>
<path d="M400.10,430.42L403.15,424.92L397.05,424.92Z" fill="#ff40ff"/>
<text x="413.60" y="430.05" font-family='"Liberation Serif", serif' font-size="9.2" text-anchor="start" >&#945;=0.4</text>
<path d="M400.10,436.00L403.30,439.20L400.10,442.40L396.90,439.20Z" fill="#0a870a"/>
<text x="413.60" y="442.50" font-family='"Liberation Serif", serif' font-size="9.2" text-anchor="start" >&#945;=0.5</text>
<path d="M396.50,451.65L401.90,448.65L401.90,454.65Z" fill="#000a80"/>
<text x="413.60" y="454.95" font-family='"Liberation Serif", serif' font-size="9.2" text-anchor="start" >&#945;=0.6</text>
<path d="M403.70,464.10L398.30,461.10L398.30,467.10Z" fill="#8a2cff"/>
<text x="413.60" y="467.40" font-family='"Liberation Serif", serif' font-size="9.2" text-anchor="start" >&#945;=0.7</text>
<polygon points="402.90,476.55 401.50,478.97 398.70,478.97 397.30,476.55 398.70,474.13 401.50,474.13" fill="#82148a"/>
<text x="413.60" y="479.85" font-family='"Liberation Serif", serif' font-size="9.2" text-anchor="start" >&#945;=0.8</text>
<polygon points="400.10,485.60 400.92,487.87 403.33,487.95 401.43,489.43 402.10,491.75 400.10,490.40 398.10,491.75 398.77,489.43 396.87,487.95 399.28,487.87" fill="#800000"/>
<text x="413.60" y="492.30" font-family='"Liberation Serif", serif' font-size="9.2" text-anchor="start" >&#945;=0.9</text>
<text x="535.95" y="525.10" font-family='"Liberation Sans", sans-serif' font-size="10" text-anchor="middle">1000/T (K<tspan font-size="5.8" dy="-4.4">-1</tspan><tspan dy="4.4">)</tspan></text>
<text transform="translate(366.80,395.60) rotate(-90)" font-family='"Liberation Sans", sans-serif' font-size="10" text-anchor="middle">ln(d<tspan font-family='"Liberation Serif", serif' font-style="italic">&#945;</tspan>/dt)</text>
<text x="356.80" y="282.60" font-family='"Liberation Sans", sans-serif' font-size="11.8" text-anchor="start" >(e)</text>
<path d="M41.50,552.80V761.20H323.10" fill="none" stroke="#000" stroke-width="1"/>
<path d="M41.50,761.20v4.4" stroke="#000" stroke-width="1"/>
<path d="M97.82,761.20v4.4" stroke="#000" stroke-width="1"/>
<path d="M154.14,761.20v4.4" stroke="#000" stroke-width="1"/>
<path d="M210.46,761.20v4.4" stroke="#000" stroke-width="1"/>
<path d="M266.78,761.20v4.4" stroke="#000" stroke-width="1"/>
<path d="M323.10,761.20v4.4" stroke="#000" stroke-width="1"/>
<path d="M69.66,761.20v2.5" stroke="#000" stroke-width="1"/>
<path d="M125.98,761.20v2.5" stroke="#000" stroke-width="1"/>
<path d="M182.30,761.20v2.5" stroke="#000" stroke-width="1"/>
<path d="M238.62,761.20v2.5" stroke="#000" stroke-width="1"/>
<path d="M294.94,761.20v2.5" stroke="#000" stroke-width="1"/>
<path d="M41.50,749.62h-4.4" stroke="#000" stroke-width="1"/>
<path d="M41.50,726.47h-4.4" stroke="#000" stroke-width="1"/>
<path d="M41.50,703.31h-4.4" stroke="#000" stroke-width="1"/>
<path d="M41.50,680.16h-4.4" stroke="#000" stroke-width="1"/>
<path d="M41.50,657.00h-4.4" stroke="#000" stroke-width="1"/>
<path d="M41.50,633.84h-4.4" stroke="#000" stroke-width="1"/>
<path d="M41.50,610.69h-4.4" stroke="#000" stroke-width="1"/>
<path d="M41.50,587.53h-4.4" stroke="#000" stroke-width="1"/>
<path d="M41.50,564.38h-4.4" stroke="#000" stroke-width="1"/>
<path d="M41.50,738.04h-2.5" stroke="#000" stroke-width="1"/>
<path d="M41.50,714.89h-2.5" stroke="#000" stroke-width="1"/>
<path d="M41.50,691.73h-2.5" stroke="#000" stroke-width="1"/>
<path d="M41.50,668.58h-2.5" stroke="#000" stroke-width="1"/>
<path d="M41.50,645.42h-2.5" stroke="#000" stroke-width="1"/>
<path d="M41.50,622.27h-2.5" stroke="#000" stroke-width="1"/>
<path d="M41.50,599.11h-2.5" stroke="#000" stroke-width="1"/>
<path d="M41.50,575.96h-2.5" stroke="#000" stroke-width="1"/>
<path d="M41.50,552.80h-2.5" stroke="#000" stroke-width="1"/>
<text transform="translate(41.50,774.60) scale(1,1.07)" font-family='"Liberation Sans", sans-serif' font-size="8.2" text-anchor="middle" >0.0</text>
<text transform="translate(97.82,774.60) scale(1,1.07)" font-family='"Liberation Sans", sans-serif' font-size="8.2" text-anchor="middle" >0.2</text>
<text transform="translate(154.14,774.60) scale(1,1.07)" font-family='"Liberation Sans", sans-serif' font-size="8.2" text-anchor="middle" >0.4</text>
<text transform="translate(210.46,774.60) scale(1,1.07)" font-family='"Liberation Sans", sans-serif' font-size="8.2" text-anchor="middle" >0.6</text>
<text transform="translate(266.78,774.60) scale(1,1.07)" font-family='"Liberation Sans", sans-serif' font-size="8.2" text-anchor="middle" >0.8</text>
<text transform="translate(323.10,774.60) scale(1,1.07)" font-family='"Liberation Sans", sans-serif' font-size="8.2" text-anchor="middle" >1.0</text>
<text transform="translate(34.20,752.02) scale(1,1.07)" font-family='"Liberation Sans", sans-serif' font-size="8.2" text-anchor="end" >100</text>
<text transform="translate(34.20,728.87) scale(1,1.07)" font-family='"Liberation Sans", sans-serif' font-size="8.2" text-anchor="end" >120</text>
<text transform="translate(34.20,705.71) scale(1,1.07)" font-family='"Liberation Sans", sans-serif' font-size="8.2" text-anchor="end" >140</text>
<text transform="translate(34.20,682.56) scale(1,1.07)" font-family='"Liberation Sans", sans-serif' font-size="8.2" text-anchor="end" >160</text>
<text transform="translate(34.20,659.40) scale(1,1.07)" font-family='"Liberation Sans", sans-serif' font-size="8.2" text-anchor="end" >180</text>
<text transform="translate(34.20,636.24) scale(1,1.07)" font-family='"Liberation Sans", sans-serif' font-size="8.2" text-anchor="end" >200</text>
<text transform="translate(34.20,613.09) scale(1,1.07)" font-family='"Liberation Sans", sans-serif' font-size="8.2" text-anchor="end" >220</text>
<text transform="translate(34.20,589.93) scale(1,1.07)" font-family='"Liberation Sans", sans-serif' font-size="8.2" text-anchor="end" >240</text>
<text transform="translate(34.20,566.78) scale(1,1.07)" font-family='"Liberation Sans", sans-serif' font-size="8.2" text-anchor="end" >260</text>
<path d="M69.66,648.80V657.30M67.66,648.80h4M67.66,657.30h4" stroke="#8c8c8c" stroke-width="1" fill="none"/>
<path d="M69.66,678.00V744.40M67.66,678.00h4M67.66,744.40h4" stroke="#7c7c7c" stroke-width="1" fill="none"/>
<path d="M97.82,631.50V641.50M95.82,631.50h4M95.82,641.50h4" stroke="#8c8c8c" stroke-width="1" fill="none"/>
<path d="M97.82,663.60V731.50M95.82,663.60h4M95.82,731.50h4" stroke="#7c7c7c" stroke-width="1" fill="none"/>
<path d="M125.98,624.40V639.10M123.98,624.40h4M123.98,639.10h4" stroke="#8c8c8c" stroke-width="1" fill="none"/>
<path d="M125.98,657.40V723.60M123.98,657.40h4M123.98,723.60h4" stroke="#7c7c7c" stroke-width="1" fill="none"/>
<path d="M154.14,623.60V641.50M152.14,623.60h4M152.14,641.50h4" stroke="#8c8c8c" stroke-width="1" fill="none"/>
<path d="M154.14,655.50V721.60M152.14,655.50h4M152.14,721.60h4" stroke="#7c7c7c" stroke-width="1" fill="none"/>
<path d="M182.30,624.40V647.30M180.30,624.40h4M180.30,647.30h4" stroke="#8c8c8c" stroke-width="1" fill="none"/>
<path d="M182.30,656.50V722.30M180.30,656.50h4M180.30,722.30h4" stroke="#7c7c7c" stroke-width="1" fill="none"/>
<path d="M210.46,629.30V658.20M208.46,629.30h4M208.46,658.20h4" stroke="#8c8c8c" stroke-width="1" fill="none"/>
<path d="M210.46,660.30V724.90M208.46,660.30h4M208.46,724.90h4" stroke="#7c7c7c" stroke-width="1" fill="none"/>
<path d="M238.62,637.80V655.80M236.62,637.80h4M236.62,655.80h4" stroke="#8c8c8c" stroke-width="1" fill="none"/>
<path d="M238.62,672.30V723.40M236.62,672.30h4M236.62,723.40h4" stroke="#7c7c7c" stroke-width="1" fill="none"/>
<path d="M266.78,624.50V661.00M264.78,624.50h4M264.78,661.00h4" stroke="#8c8c8c" stroke-width="1" fill="none"/>
<path d="M266.78,666.60V701.40M264.78,666.60h4M264.78,701.40h4" stroke="#7c7c7c" stroke-width="1" fill="none"/>
<path d="M294.94,560.60V600.20M292.94,560.60h4M292.94,600.20h4" stroke="#8c8c8c" stroke-width="1" fill="none"/>
<path d="M294.94,663.40V698.30M292.94,663.40h4M292.94,698.30h4" stroke="#7c7c7c" stroke-width="1" fill="none"/>
<line x1="73.03" y1="650.94" x2="94.45" y2="638.46" stroke="#222" stroke-width="0.85"/>
<line x1="101.67" y1="635.87" x2="122.13" y2="632.53" stroke="#222" stroke-width="0.85"/>
<line x1="129.88" y1="632.00" x2="150.24" y2="632.50" stroke="#222" stroke-width="0.85"/>
<line x1="158.02" y1="633.04" x2="178.42" y2="635.36" stroke="#222" stroke-width="0.85"/>
<line x1="186.06" y1="636.83" x2="206.70" y2="642.47" stroke="#222" stroke-width="0.85"/>
<line x1="214.33" y1="643.95" x2="234.75" y2="646.35" stroke="#222" stroke-width="0.85"/>
<line x1="242.48" y1="646.22" x2="262.92" y2="643.18" stroke="#222" stroke-width="0.85"/>
<line x1="268.39" y1="639.05" x2="293.33" y2="583.95" stroke="#222" stroke-width="0.85"/>
<line x1="73.18" y1="709.22" x2="94.30" y2="699.18" stroke="#3a3a3a" stroke-width="0.85" stroke-dasharray="1.6,1.6"/>
<line x1="101.60" y1="696.53" x2="122.20" y2="691.27" stroke="#3a3a3a" stroke-width="0.85" stroke-dasharray="1.6,1.6"/>
<line x1="129.87" y1="690.05" x2="150.25" y2="688.75" stroke="#3a3a3a" stroke-width="0.85" stroke-dasharray="1.6,1.6"/>
<line x1="158.04" y1="688.60" x2="178.40" y2="689.10" stroke="#3a3a3a" stroke-width="0.85" stroke-dasharray="1.6,1.6"/>
<line x1="186.17" y1="689.68" x2="206.59" y2="692.22" stroke="#3a3a3a" stroke-width="0.85" stroke-dasharray="1.6,1.6"/>
<line x1="214.30" y1="693.36" x2="234.78" y2="696.84" stroke="#3a3a3a" stroke-width="0.85" stroke-dasharray="1.6,1.6"/>
<line x1="242.14" y1="695.82" x2="263.26" y2="685.78" stroke="#3a3a3a" stroke-width="0.85" stroke-dasharray="1.6,1.6"/>
<line x1="270.66" y1="683.66" x2="291.06" y2="681.34" stroke="#3a3a3a" stroke-width="0.85" stroke-dasharray="1.6,1.6"/>
<rect x="67.16" y="650.40" width="5" height="5" fill="#000"/>
<circle cx="69.66" cy="710.90" r="2.7" fill="#000"/>
<rect x="95.32" y="634.00" width="5" height="5" fill="#000"/>
<circle cx="97.82" cy="697.50" r="2.7" fill="#000"/>
<rect x="123.48" y="629.40" width="5" height="5" fill="#000"/>
<circle cx="125.98" cy="690.30" r="2.7" fill="#000"/>
<rect x="151.64" y="630.10" width="5" height="5" fill="#000"/>
<circle cx="154.14" cy="688.50" r="2.7" fill="#000"/>
<rect x="179.80" y="633.30" width="5" height="5" fill="#000"/>
<circle cx="182.30" cy="689.20" r="2.7" fill="#000"/>
<rect x="207.96" y="641.00" width="5" height="5" fill="#000"/>
<circle cx="210.46" cy="692.70" r="2.7" fill="#000"/>
<rect x="236.12" y="644.30" width="5" height="5" fill="#000"/>
<circle cx="238.62" cy="697.50" r="2.7" fill="#000"/>
<rect x="264.28" y="640.10" width="5" height="5" fill="#000"/>
<circle cx="266.78" cy="684.10" r="2.7" fill="#000"/>
<rect x="292.44" y="577.90" width="5" height="5" fill="#000"/>
<circle cx="294.94" cy="680.90" r="2.7" fill="#000"/>
<path d="M50.30,561.50h7.5M65.80,561.50h7.5" stroke="#555" stroke-width="0.8"/>
<rect x="59.30" y="559.00" width="5" height="5" fill="#000"/>
<path d="M50.30,573.80h7.5M65.80,573.80h7.5" stroke="#666" stroke-width="0.8" stroke-dasharray="1.6,1.6"/>
<circle cx="61.80" cy="573.80" r="2.7" fill="#000"/>
<text x="76.30" y="565.30" font-family='"Liberation Sans", sans-serif' font-size="10.3" text-anchor="start" >Ffos-y-Fran</text>
<text x="76.30" y="577.60" font-family='"Liberation Sans", sans-serif' font-size="10.3" text-anchor="start" >Ffos-y-Fran + Facemask</text>
<text x="182.30" y="788.20" font-family='"Liberation Serif", serif' font-size="10.5" fill="#222" text-anchor="middle">&#945;</text>
<text transform="translate(12.00,665.20) rotate(-90)" font-family='"Liberation Sans", sans-serif' font-size="10" text-anchor="middle">E<tspan font-size="6.5" dy="3.2">a</tspan><tspan dy="-3.2"> (kJmol</tspan><tspan font-size="5.8" dy="-4.4">-1</tspan><tspan dy="4.4">)</tspan></text>
<text x="1.90" y="550.10" font-family='"Liberation Sans", sans-serif' font-size="11.8" text-anchor="start" >(c)</text>
<path d="M394.80,552.80V761.20H676.70" fill="none" stroke="#000" stroke-width="1"/>
<path d="M394.80,761.20v4.4" stroke="#000" stroke-width="1"/>
<path d="M451.18,761.20v4.4" stroke="#000" stroke-width="1"/>
<path d="M507.56,761.20v4.4" stroke="#000" stroke-width="1"/>
<path d="M563.94,761.20v4.4" stroke="#000" stroke-width="1"/>
<path d="M620.32,761.20v4.4" stroke="#000" stroke-width="1"/>
<path d="M676.70,761.20v4.4" stroke="#000" stroke-width="1"/>
<path d="M422.99,761.20v2.5" stroke="#000" stroke-width="1"/>
<path d="M479.37,761.20v2.5" stroke="#000" stroke-width="1"/>
<path d="M535.75,761.20v2.5" stroke="#000" stroke-width="1"/>
<path d="M592.13,761.20v2.5" stroke="#000" stroke-width="1"/>
<path d="M648.51,761.20v2.5" stroke="#000" stroke-width="1"/>
<path d="M394.80,749.62h-4.4" stroke="#000" stroke-width="1"/>
<path d="M394.80,726.47h-4.4" stroke="#000" stroke-width="1"/>
<path d="M394.80,703.31h-4.4" stroke="#000" stroke-width="1"/>
<path d="M394.80,680.16h-4.4" stroke="#000" stroke-width="1"/>
<path d="M394.80,657.00h-4.4" stroke="#000" stroke-width="1"/>
<path d="M394.80,633.84h-4.4" stroke="#000" stroke-width="1"/>
<path d="M394.80,610.69h-4.4" stroke="#000" stroke-width="1"/>
<path d="M394.80,587.53h-4.4" stroke="#000" stroke-width="1"/>
<path d="M394.80,564.38h-4.4" stroke="#000" stroke-width="1"/>
<path d="M394.80,738.04h-2.5" stroke="#000" stroke-width="1"/>
<path d="M394.80,714.89h-2.5" stroke="#000" stroke-width="1"/>
<path d="M394.80,691.73h-2.5" stroke="#000" stroke-width="1"/>
<path d="M394.80,668.58h-2.5" stroke="#000" stroke-width="1"/>
<path d="M394.80,645.42h-2.5" stroke="#000" stroke-width="1"/>
<path d="M394.80,622.27h-2.5" stroke="#000" stroke-width="1"/>
<path d="M394.80,599.11h-2.5" stroke="#000" stroke-width="1"/>
<path d="M394.80,575.96h-2.5" stroke="#000" stroke-width="1"/>
<path d="M394.80,552.80h-2.5" stroke="#000" stroke-width="1"/>
<text transform="translate(394.80,774.60) scale(1,1.07)" font-family='"Liberation Sans", sans-serif' font-size="8.2" text-anchor="middle" >0.0</text>
<text transform="translate(451.18,774.60) scale(1,1.07)" font-family='"Liberation Sans", sans-serif' font-size="8.2" text-anchor="middle" >0.2</text>
<text transform="translate(507.56,774.60) scale(1,1.07)" font-family='"Liberation Sans", sans-serif' font-size="8.2" text-anchor="middle" >0.4</text>
<text transform="translate(563.94,774.60) scale(1,1.07)" font-family='"Liberation Sans", sans-serif' font-size="8.2" text-anchor="middle" >0.6</text>
<text transform="translate(620.32,774.60) scale(1,1.07)" font-family='"Liberation Sans", sans-serif' font-size="8.2" text-anchor="middle" >0.8</text>
<text transform="translate(676.70,774.60) scale(1,1.07)" font-family='"Liberation Sans", sans-serif' font-size="8.2" text-anchor="middle" >1.0</text>
<text transform="translate(387.50,752.02) scale(1,1.07)" font-family='"Liberation Sans", sans-serif' font-size="8.2" text-anchor="end" >100</text>
<text transform="translate(387.50,728.87) scale(1,1.07)" font-family='"Liberation Sans", sans-serif' font-size="8.2" text-anchor="end" >120</text>
<text transform="translate(387.50,705.71) scale(1,1.07)" font-family='"Liberation Sans", sans-serif' font-size="8.2" text-anchor="end" >140</text>
<text transform="translate(387.50,682.56) scale(1,1.07)" font-family='"Liberation Sans", sans-serif' font-size="8.2" text-anchor="end" >160</text>
<text transform="translate(387.50,659.40) scale(1,1.07)" font-family='"Liberation Sans", sans-serif' font-size="8.2" text-anchor="end" >180</text>
<text transform="translate(387.50,636.24) scale(1,1.07)" font-family='"Liberation Sans", sans-serif' font-size="8.2" text-anchor="end" >200</text>
<text transform="translate(387.50,613.09) scale(1,1.07)" font-family='"Liberation Sans", sans-serif' font-size="8.2" text-anchor="end" >220</text>
<text transform="translate(387.50,589.93) scale(1,1.07)" font-family='"Liberation Sans", sans-serif' font-size="8.2" text-anchor="end" >240</text>
<text transform="translate(387.50,566.78) scale(1,1.07)" font-family='"Liberation Sans", sans-serif' font-size="8.2" text-anchor="end" >260</text>
<path d="M422.99,691.70V710.60M420.99,691.70h4M420.99,710.60h4" stroke="#8c8c8c" stroke-width="1" fill="none"/>
<path d="M422.99,697.00V714.50M420.99,697.00h4M420.99,714.50h4" stroke="#7c7c7c" stroke-width="1" fill="none"/>
<path d="M451.18,688.40V702.50M449.18,688.40h4M449.18,702.50h4" stroke="#8c8c8c" stroke-width="1" fill="none"/>
<path d="M451.18,694.00V708.40M449.18,694.00h4M449.18,708.40h4" stroke="#7c7c7c" stroke-width="1" fill="none"/>
<path d="M479.37,692.50V706.30M477.37,692.50h4M477.37,706.30h4" stroke="#8c8c8c" stroke-width="1" fill="none"/>
<path d="M479.37,694.30V708.40M477.37,694.30h4M477.37,708.40h4" stroke="#7c7c7c" stroke-width="1" fill="none"/>
<path d="M507.56,696.30V708.80M505.56,696.30h4M505.56,708.80h4" stroke="#8c8c8c" stroke-width="1" fill="none"/>
<path d="M507.56,696.30V708.80M505.56,696.30h4M505.56,708.80h4" stroke="#7c7c7c" stroke-width="1" fill="none"/>
<path d="M535.75,698.00V708.50M533.75,698.00h4M533.75,708.50h4" stroke="#8c8c8c" stroke-width="1" fill="none"/>
<path d="M535.75,698.00V708.50M533.75,698.00h4M533.75,708.50h4" stroke="#7c7c7c" stroke-width="1" fill="none"/>
<path d="M563.94,697.60V707.20M561.94,697.60h4M561.94,707.20h4" stroke="#8c8c8c" stroke-width="1" fill="none"/>
<path d="M563.94,697.60V707.20M561.94,697.60h4M561.94,707.20h4" stroke="#7c7c7c" stroke-width="1" fill="none"/>
<path d="M592.13,698.50V706.10M590.13,698.50h4M590.13,706.10h4" stroke="#8c8c8c" stroke-width="1" fill="none"/>
<path d="M592.13,698.50V706.10M590.13,698.50h4M590.13,706.10h4" stroke="#7c7c7c" stroke-width="1" fill="none"/>
<path d="M620.32,698.50V705.50M618.32,698.50h4M618.32,705.50h4" stroke="#8c8c8c" stroke-width="1" fill="none"/>
<path d="M620.32,698.50V710.00M618.32,698.50h4M618.32,710.00h4" stroke="#7c7c7c" stroke-width="1" fill="none"/>
<path d="M648.51,703.30V720.40M646.51,703.30h4M646.51,720.40h4" stroke="#8c8c8c" stroke-width="1" fill="none"/>
<path d="M648.51,703.30V716.00M646.51,703.30h4M646.51,716.00h4" stroke="#7c7c7c" stroke-width="1" fill="none"/>
<line x1="426.82" y1="700.08" x2="447.35" y2="696.22" stroke="#333" stroke-width="0.85"/>
<line x1="455.06" y1="695.94" x2="475.49" y2="698.26" stroke="#333" stroke-width="0.85"/>
<line x1="483.24" y1="699.21" x2="503.69" y2="701.89" stroke="#333" stroke-width="0.85"/>
<line x1="511.46" y1="702.52" x2="531.85" y2="703.18" stroke="#333" stroke-width="0.85"/>
<line x1="539.65" y1="703.12" x2="560.04" y2="702.18" stroke="#333" stroke-width="0.85"/>
<line x1="567.84" y1="701.96" x2="588.23" y2="701.74" stroke="#333" stroke-width="0.85"/>
<line x1="596.03" y1="701.74" x2="616.42" y2="701.96" stroke="#333" stroke-width="0.85"/>
<line x1="624.04" y1="703.19" x2="644.79" y2="709.81" stroke="#333" stroke-width="0.85"/>
<line x1="426.82" y1="705.75" x2="447.35" y2="701.75" stroke="#3a3a3a" stroke-width="0.85" stroke-dasharray="1.6,1.6"/>
<line x1="455.08" y1="701.06" x2="475.47" y2="701.34" stroke="#3a3a3a" stroke-width="0.85" stroke-dasharray="1.6,1.6"/>
<line x1="483.27" y1="701.57" x2="503.66" y2="702.43" stroke="#3a3a3a" stroke-width="0.85" stroke-dasharray="1.6,1.6"/>
<line x1="511.46" y1="702.70" x2="531.85" y2="703.20" stroke="#3a3a3a" stroke-width="0.85" stroke-dasharray="1.6,1.6"/>
<line x1="539.65" y1="703.30" x2="560.04" y2="703.30" stroke="#3a3a3a" stroke-width="0.85" stroke-dasharray="1.6,1.6"/>
<line x1="567.83" y1="703.53" x2="588.24" y2="704.77" stroke="#3a3a3a" stroke-width="0.85" stroke-dasharray="1.6,1.6"/>
<line x1="596.01" y1="705.43" x2="616.44" y2="707.67" stroke="#3a3a3a" stroke-width="0.85" stroke-dasharray="1.6,1.6"/>
<line x1="624.22" y1="708.20" x2="644.61" y2="708.70" stroke="#3a3a3a" stroke-width="0.85" stroke-dasharray="1.6,1.6"/>
<rect x="420.49" y="698.30" width="5" height="5" fill="#000"/>
<circle cx="422.99" cy="706.50" r="2.7" fill="#000"/>
<rect x="448.68" y="693.00" width="5" height="5" fill="#000"/>
<circle cx="451.18" cy="701.00" r="2.7" fill="#000"/>
<rect x="476.87" y="696.20" width="5" height="5" fill="#000"/>
<circle cx="479.37" cy="701.40" r="2.7" fill="#000"/>
<rect x="505.06" y="699.90" width="5" height="5" fill="#000"/>
<circle cx="507.56" cy="702.60" r="2.7" fill="#000"/>
<rect x="533.25" y="700.80" width="5" height="5" fill="#000"/>
<circle cx="535.75" cy="703.30" r="2.7" fill="#000"/>
<rect x="561.44" y="699.50" width="5" height="5" fill="#000"/>
<circle cx="563.94" cy="703.30" r="2.7" fill="#000"/>
<rect x="589.63" y="699.20" width="5" height="5" fill="#000"/>
<circle cx="592.13" cy="705.00" r="2.7" fill="#000"/>
<rect x="617.82" y="699.50" width="5" height="5" fill="#000"/>
<circle cx="620.32" cy="708.10" r="2.7" fill="#000"/>
<rect x="646.01" y="708.50" width="5" height="5" fill="#000"/>
<circle cx="648.51" cy="708.80" r="2.7" fill="#000"/>
<path d="M402.20,560.40h7.5M417.70,560.40h7.5" stroke="#9a9a9a" stroke-width="0.8"/>
<rect x="411.20" y="557.90" width="5" height="5" fill="#000"/>
<path d="M402.20,572.70h7.5M417.70,572.70h7.5" stroke="#666" stroke-width="0.8" stroke-dasharray="1.6,1.6"/>
<circle cx="413.70" cy="572.70" r="2.7" fill="#000"/>
<text x="428.20" y="564.20" font-family='"Liberation Sans", sans-serif' font-size="10.3" text-anchor="start" >Charcoal</text>
<text x="428.20" y="576.50" font-family='"Liberation Sans", sans-serif' font-size="10.3" text-anchor="start" >Charcoal + Facemask</text>
<text x="535.75" y="788.20" font-family='"Liberation Serif", serif' font-size="10.5" fill="#222" text-anchor="middle">&#945;</text>
<text transform="translate(365.30,665.20) rotate(-90)" font-family='"Liberation Sans", sans-serif' font-size="10" text-anchor="middle">E<tspan font-size="6.5" dy="3.2">a</tspan><tspan dy="-3.2"> (kJmol</tspan><tspan font-size="5.8" dy="-4.4">-1</tspan><tspan dy="4.4">)</tspan></text>
<text x="356.10" y="550.10" font-family='"Liberation Sans", sans-serif' font-size="11.8" text-anchor="start" >(f)</text>
</svg></body></html>
